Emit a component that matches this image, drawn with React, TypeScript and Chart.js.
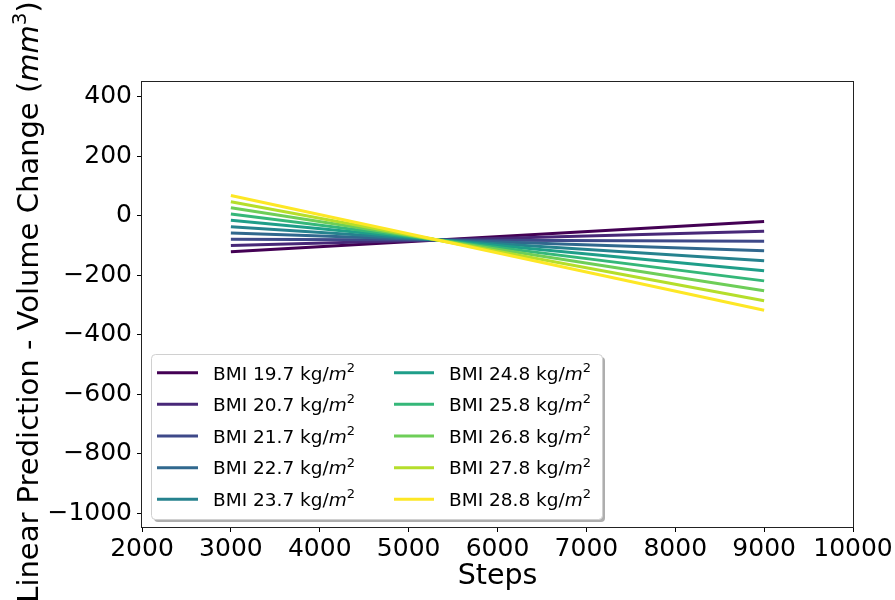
import React, { useEffect, useRef } from "react";
import { Chart, registerables } from "chart.js";

Chart.register(...registerables);

// BMI levels shown as separate linear predictions
const BMI_LEVELS = [19.7, 20.7, 21.7, 22.7, 23.7, 24.8, 25.8, 26.8, 27.8, 28.8];
// Daily steps range over which each prediction is drawn
const STEP_START = 3000;
const STEP_END = 9000;
// Predicted volume change (mm^3) at the start and end of the step range
const PRED_AT_START = [-121, -100, -79, -58, -37, -15, 6, 27, 47, 68];
const PRED_AT_END = [-19, -52, -86, -118, -151, -185, -219, -252, -286, -318];
// viridis colormap sampled at 10 even positions
const VIRIDIS = [
  "#440154", "#482878", "#3e4989", "#31688e", "#26828e",
  "#1f9e89", "#35b779", "#6ece58", "#b5de2b", "#fde725",
];
const X_TICKS = [2000, 3000, 4000, 5000, 6000, 7000, 8000, 9000, 10000];
const Y_TICKS = [400, 200, 0, -200, -400, -600, -800, -1000];
const X_LIMITS = [2000, 10000];
const Y_LIMITS = [-1047, 450];

const FAMILY = '"DejaVu Sans", "Liberation Sans", sans-serif';

type Run = { text: string; italic?: boolean; sup?: boolean };

function runFont(r: Run, size: number) {
  const s = r.sup ? Math.round(size * 0.7) : size;
  return `${r.italic ? "italic " : ""}${s}px ${FAMILY}`;
}

function drawRuns(
  ctx: CanvasRenderingContext2D,
  runs: Run[],
  x: number,
  y: number,
  size: number,
  align: "left" | "center"
) {
  ctx.textAlign = "left";
  ctx.textBaseline = "alphabetic";
  const widths = runs.map((r) => {
    ctx.font = runFont(r, size);
    return ctx.measureText(r.text).width;
  });
  const total = widths.reduce((a, b) => a + b, 0);
  let cx = align === "center" ? x - total / 2 : x;
  runs.forEach((r, i) => {
    ctx.font = runFont(r, size);
    ctx.fillText(r.text, cx, r.sup ? y - size * 0.42 : y);
    cx += widths[i];
  });
}

const minus = (v: number) => String(v).replace("-", "\u2212");

const framePlugin = {
  id: "frameAndLabels",
  afterDraw(chart: any) {
    const ctx: CanvasRenderingContext2D = chart.ctx;
    const { left, right, top, bottom } = chart.chartArea;
    ctx.save();

    // axes frame
    ctx.strokeStyle = "#222";
    ctx.lineWidth = 1;
    ctx.strokeRect(left - 0.5, top - 0.5, right - left + 1, bottom - top + 1);

    ctx.fillStyle = "#000";
    // x axis title
    drawRuns(ctx, [{ text: "Steps" }], (left + right) / 2, 584, 28.5, "center");

    // y axis title
    ctx.save();
    ctx.translate(38, 302);
    ctx.rotate(-Math.PI / 2);
    drawRuns(
      ctx,
      [
        { text: "Linear Prediction - Volume Change (" },
        { text: "mm", italic: true },
        { text: "3", sup: true },
        { text: ")" },
      ],
      0,
      0,
      29,
      "center"
    );
    ctx.restore();

    // legend
    const bx = 151, by = 354, bw = 451, bh = 165, rad = 4;
    const roundRect = (x: number, y: number, w: number, h: number) => {
      ctx.beginPath();
      ctx.moveTo(x + rad, y);
      ctx.lineTo(x + w - rad, y);
      ctx.arcTo(x + w, y, x + w, y + rad, rad);
      ctx.lineTo(x + w, y + h - rad);
      ctx.arcTo(x + w, y + h, x + w - rad, y + h, rad);
      ctx.lineTo(x + rad, y + h);
      ctx.arcTo(x, y + h, x, y + h - rad, rad);
      ctx.lineTo(x, y + rad);
      ctx.arcTo(x, y, x + rad, y, rad);
      ctx.closePath();
    };
    roundRect(bx + 3, by + 3, bw, bh);
    ctx.fillStyle = "rgba(120,120,120,0.6)";
    ctx.fill();
    roundRect(bx + 0.5, by + 0.5, bw, bh);
    ctx.fillStyle = "#fff";
    ctx.fill();
    ctx.strokeStyle = "#d0d0d0";
    ctx.lineWidth = 1;
    ctx.stroke();

    const datasets = chart.data.datasets;
    const cols = [
      { lx0: 157, lx1: 198, tx: 213 },
      { lx0: 394, lx1: 434, tx: 449 },
    ];
    const rowH = 31.65;
    const perCol = Math.ceil(datasets.length / 2);
    datasets.forEach((ds: any, i: number) => {
      const c = cols[Math.floor(i / perCol)];
      const cy = 372.7 + (i % perCol) * rowH;
      ctx.strokeStyle = ds.borderColor;
      ctx.lineWidth = 3;
      ctx.beginPath();
      ctx.moveTo(c.lx0, cy);
      ctx.lineTo(c.lx1, cy);
      ctx.stroke();
      ctx.fillStyle = "#000";
      drawRuns(
        ctx,
        [
          { text: `BMI ${BMI_LEVELS[i].toFixed(1)} kg/` },
          { text: "m", italic: true },
          { text: "2", sup: true },
        ],
        c.tx,
        cy + 6.8,
        18.5,
        "left"
      );
    });

    ctx.restore();
  },
};

export default function App() {
  const canvasRef = useRef<HTMLCanvasElement | null>(null);

  useEffect(() => {
    const canvas = canvasRef.current;
    if (!canvas) return;

    const datasets = BMI_LEVELS.map((bmi, i) => ({
      label: `BMI ${bmi.toFixed(1)} kg/m2`,
      data: [
        { x: STEP_START, y: PRED_AT_START[i] },
        { x: STEP_END, y: PRED_AT_END[i] },
      ],
      borderColor: VIRIDIS[i],
      backgroundColor: VIRIDIS[i],
      borderWidth: 3,
      pointRadius: 0,
      fill: false,
      tension: 0,
      order: BMI_LEVELS.length - i,
    }));

    const tickFont = { family: FAMILY, size: 25 };

    const chart = new Chart(canvas, {
      type: "line",
      data: { datasets },
      plugins: [framePlugin],
      options: {
        animation: false,
        responsive: false,
        devicePixelRatio: 1,
        layout: { padding: { top: 82, right: 42, left: 0, bottom: 0 } },
        plugins: {
          legend: { display: false },
          tooltip: { enabled: false },
          title: { display: false },
        },
        scales: {
          x: {
            type: "linear",
            min: X_LIMITS[0],
            max: X_LIMITS[1],
            afterBuildTicks: (scale: any) => {
              scale.ticks = X_TICKS.map((v) => ({ value: v }));
            },
            afterFit: (scale: any) => {
              scale.height = 73;
            },
            ticks: {
              font: tickFont,
              color: "#000",
              padding: 2,
              maxRotation: 0,
              autoSkip: false,
              callback: (v: any) => minus(v),
            },
            grid: {
              display: true,
              drawOnChartArea: false,
              drawTicks: true,
              tickLength: 5,
              tickColor: "#000",
              color: "#000",
            },
            border: { display: false },
          },
          y: {
            type: "linear",
            min: Y_LIMITS[0],
            max: Y_LIMITS[1],
            afterBuildTicks: (scale: any) => {
              scale.ticks = Y_TICKS.map((v) => ({ value: v }));
            },
            afterFit: (scale: any) => {
              scale.width = 142;
            },
            ticks: {
              font: tickFont,
              color: "#000",
              padding: 5,
              autoSkip: false,
              callback: (v: any) => minus(v),
            },
            grid: {
              display: true,
              drawOnChartArea: false,
              drawTicks: true,
              tickLength: 5,
              tickColor: "#000",
              color: "#000",
            },
            border: { display: false },
          },
        },
      },
    } as any);

    return () => chart.destroy();
  }, []);

  return (
    <div style={{ position: "absolute", left: 0, top: 0, width: 895, height: 600, background: "#fff" }}>
      <canvas ref={canvasRef} width={895} height={600} style={{ display: "block" }} />
    </div>
  );
}
